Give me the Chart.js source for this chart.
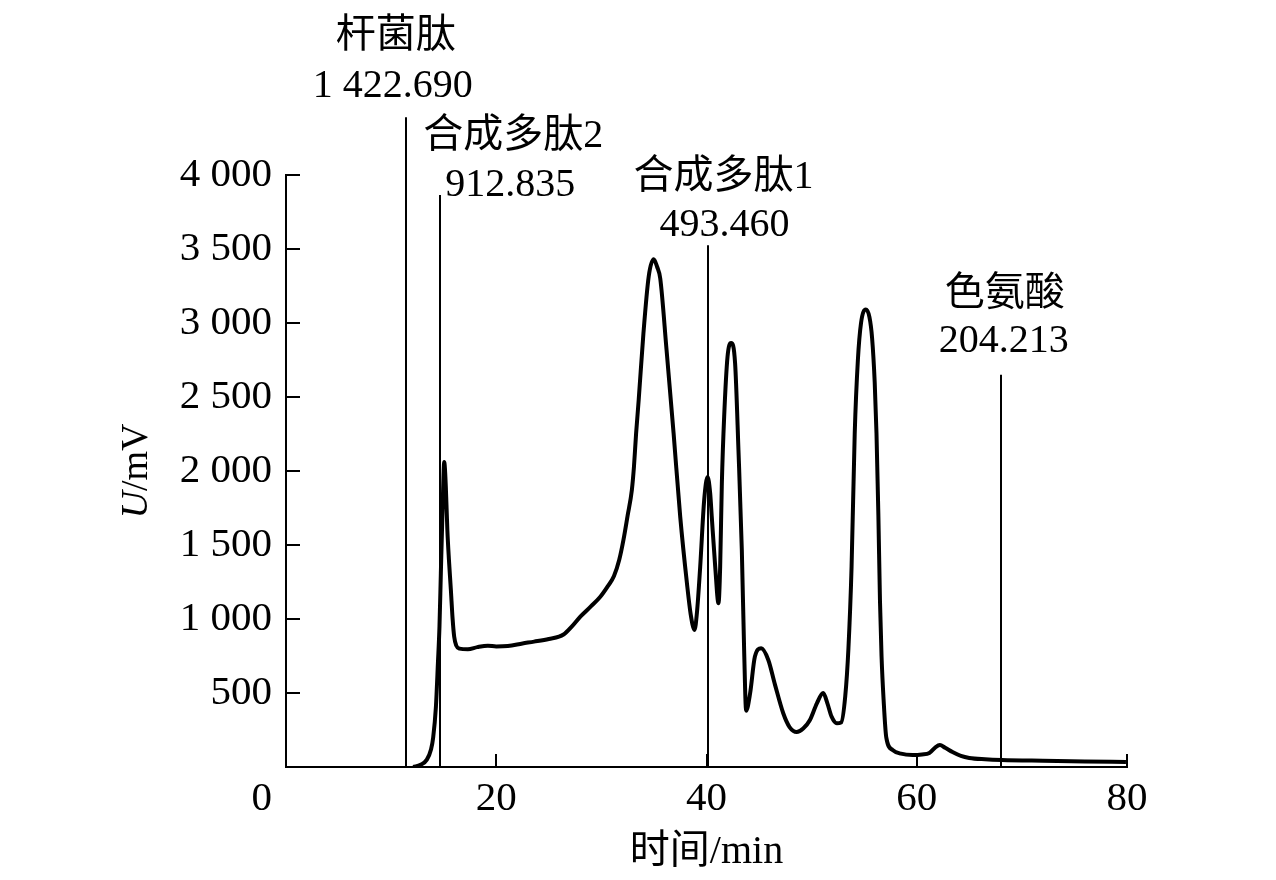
<!DOCTYPE html>
<html>
<head>
<meta charset="utf-8">
<script src="https://cdn.jsdelivr.net/npm/chart.js@4"></script>
<style>
html,body{margin:0;padding:0;background:#fff;}
#wrap{width:1276px;height:880px;}
</style>
</head>
<body>
<div id="wrap"><canvas id="c" width="1276" height="880"></canvas></div>
<script>
// ---- data ----
const timeMin = [12.1,12.8,13.4,13.8,14.0,14.26,14.45,14.6,14.73,14.9,15.05,15.2,15.35,15.5,15.68,15.85,16.0,16.2,16.5,17.3,18.2,19.2,20.0,21.1,22.5,23.6,25.0,26.4,27.2,28.0,29.0,29.9,30.6,31.2,31.7,32.1,32.5,32.9,33.1,33.3,33.55,34.0,34.5,34.97,35.3,35.6,36.2,36.87,37.5,38.14,38.5,38.86,39.1,39.4,39.78,40.1,40.35,40.5,40.83,41.14,41.3,41.46,41.68,42.0,42.34,42.72,43.04,43.36,43.58,43.77,44.15,44.6,45.2,45.88,46.5,47.3,47.9,48.58,49.2,49.84,50.5,51.1,51.5,51.9,52.4,52.8,53.2,53.5,53.8,54.1,54.4,54.7,55.15,55.5,55.75,56.0,56.17,56.35,56.5,56.65,56.85,57.1,57.7,58.5,59.6,60.5,61.2,61.8,62.2,62.7,63.4,64.2,65.0,66.5,68.1,72.0,76.0,79.9];
const signalMV = [0,15,50,120,200,407,700,950,1310,1760,2060,1900,1600,1400,1200,1000,880,820,800,795,810,820,815,818,835,847,865,895,950,1016,1085,1150,1220,1290,1400,1534,1700,1872,2029,2250,2480,2930,3313,3430,3380,3300,2818,2255,1691,1241,1030,926,1050,1353,1804,1960,1850,1691,1353,1106,1353,1917,2367,2772,2865,2728,2142,1466,791,380,498,745,802,723,560,363,270,237,260,318,430,500,430,340,295,300,480,800,1353,2255,2750,3000,3092,3040,2900,2600,2255,1700,1128,750,450,200,115,90,81,85,95,135,148,130,101,75,61,52,47,42,38,34];
const yTicks = [500,1000,1500,2000,2500,3000,3500,4000];
const xTicks = [20,40,60,80];
const peakNames = ['杆菌肽','合成多肽2','合成多肽1','色氨酸'];
const peakLabels = ['1 422.690','912.835','493.460','204.213'];
const markerTimes = [11.4,14.67,40.1,68.0];
const markerTops = [4390,3865,3525,2650];

// ---- styling / label placement (pixels) ----
const SERIF = "'Liberation Serif','Times New Roman',serif";
const MIXED = "'Liberation Serif','Noto Sans CJK SC',serif";
const labelOffsets = [
  {dxName:-10, dxNum:-13, dyName:-81, dyNum:-31},
  {dxName:73, dxNum:70, dyName:-58, dyNum:-9},
  {dxName:16, dxNum:17, dyName:-68, dyNum:-20},
  {dxName:4, dxNum:3, dyName:-80, dyNum:-33}
];

function fmt(v){
  const s = String(v);
  return s.length > 3 ? s.slice(0, s.length-3) + ' ' + s.slice(-3) : s;
}

const decor = {
  id: 'decor',
  afterDraw(chart){
    const ctx = chart.ctx;
    const x = chart.scales.x, y = chart.scales.y;
    ctx.save();
    ctx.strokeStyle = '#000';
    ctx.fillStyle = '#000';
    ctx.lineWidth = 2;
    // inward tick marks
    yTicks.forEach(v => {
      const py = Math.round(y.getPixelForValue(v));
      ctx.beginPath(); ctx.moveTo(x.left, py); ctx.lineTo(x.left + 14, py); ctx.stroke();
    });
    xTicks.forEach(v => {
      const px = Math.round(x.getPixelForValue(v));
      ctx.beginPath(); ctx.moveTo(px, y.bottom); ctx.lineTo(px, y.bottom - 13); ctx.stroke();
    });
    // marker lines
    markerTimes.forEach((t, i) => {
      const px = Math.round(x.getPixelForValue(t));
      ctx.beginPath();
      ctx.moveTo(px, y.getPixelForValue(0));
      ctx.lineTo(px, y.getPixelForValue(markerTops[i]));
      ctx.stroke();
    });
    // annotations
    ctx.font = '40px ' + MIXED;
    ctx.textAlign = 'center';
    ctx.textBaseline = 'middle';
    markerTimes.forEach((t, i) => {
      const px = x.getPixelForValue(t);
      const py = y.getPixelForValue(markerTops[i]);
      const o = labelOffsets[i];
      ctx.fillText(peakNames[i], px + o.dxName, py + o.dyName);
      ctx.fillText(peakLabels[i], px + o.dxNum, py + o.dyNum);
    });
    // shared origin label
    ctx.font = '41px ' + SERIF;
    ctx.textAlign = 'right';
    ctx.fillText('0', x.left - 14, y.bottom + 32);
    // x title
    ctx.font = '40px ' + MIXED;
    ctx.textAlign = 'center';
    ctx.fillText('时间/min', (x.left + x.right) / 2, 852);
    // y title (rotated, italic U)
    ctx.translate(137, (y.top + y.bottom) / 2);
    ctx.rotate(-Math.PI / 2);
    ctx.font = 'italic 38px ' + SERIF;
    const wU = ctx.measureText('U').width;
    ctx.font = '38px ' + SERIF;
    const wR = ctx.measureText('/mV').width;
    const start = -(wU + wR) / 2;
    ctx.textAlign = 'left';
    ctx.font = 'italic 38px ' + SERIF;
    ctx.fillText('U', start, 0);
    ctx.font = '38px ' + SERIF;
    ctx.fillText('/mV', start + wU, 0);
    ctx.restore();
  }
};

new Chart(document.getElementById('c'), {
  type: 'line',
  data: {
    datasets: [{
      data: timeMin.map((t, i) => ({x: t, y: signalMV[i]})),
      borderColor: '#000',
      borderWidth: 4,
      pointRadius: 0,
      fill: false,
      cubicInterpolationMode: 'monotone'
    }]
  },
  options: {
    responsive: false,
    animation: false,
    devicePixelRatio: 1,
    layout: {padding: {left: 0, right: 149, top: 175, bottom: 0}},
    plugins: {legend: {display: false}, tooltip: {enabled: false}},
    scales: {
      x: {
        type: 'linear', min: 0, max: 80,
        afterBuildTicks: s => { s.ticks = xTicks.map(v => ({value: v})); },
        afterFit: s => { s.height = 113; },
        grid: {display: false, drawTicks: false},
        border: {display: true, color: '#000', width: 2},
        ticks: {color: '#000', font: {family: SERIF, size: 41}, padding: 8, maxRotation: 0, autoSkip: false}
      },
      y: {
        type: 'linear', min: 0, max: 4000,
        afterBuildTicks: s => { s.ticks = yTicks.map(v => ({value: v})); },
        afterFit: s => { s.width = 286; },
        grid: {display: false, drawTicks: false},
        border: {display: true, color: '#000', width: 2},
        ticks: {color: '#000', font: {family: SERIF, size: 41}, padding: 14, callback: v => fmt(v)}
      }
    }
  },
  plugins: [decor]
});
</script>
</body>
</html>
